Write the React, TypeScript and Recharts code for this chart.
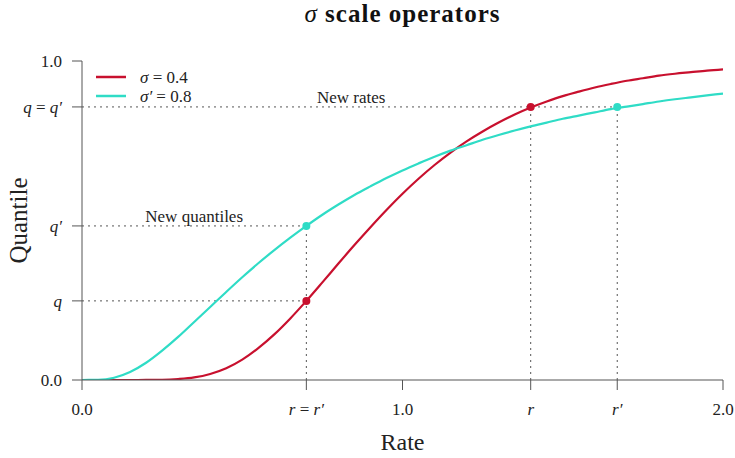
import React from "react";
import {
  LineChart,
  Line,
  XAxis,
  YAxis,
  ReferenceLine,
  ReferenceDot,
  Label,
} from "recharts";

const RED = "#c8102e";
const CYAN = "#2fdcc6";
const GUIDE = "#555555";
const FONT = "'Liberation Serif', 'DejaVu Serif', serif";

// rate grid and the two quantile curves
const rates = [
  0, 0.05, 0.1, 0.15, 0.2, 0.25, 0.3, 0.35, 0.4, 0.45, 0.5, 0.55, 0.6, 0.65,
  0.7, 0.75, 0.8, 0.85, 0.9, 0.95, 1.0, 1.05, 1.1, 1.15, 1.2, 1.25, 1.3, 1.35,
  1.4, 1.45, 1.5, 1.55, 1.6, 1.65, 1.7, 1.75, 1.8, 1.85, 1.9, 1.95, 2.0,
];
const sigmaQuantiles = [
  0, 0, 0, 0, 0.0001, 0.0006, 0.003, 0.008, 0.019, 0.037, 0.064, 0.1, 0.143,
  0.193, 0.248, 0.306, 0.365, 0.423, 0.479, 0.533, 0.584, 0.631, 0.674, 0.713,
  0.748, 0.779, 0.807, 0.832, 0.854, 0.873, 0.89, 0.904, 0.917, 0.928, 0.938,
  0.946, 0.954, 0.96, 0.965, 0.97, 0.974,
];
const sigmaPrimeQuantiles = [
  0, 0.0004, 0.007, 0.025, 0.054, 0.092, 0.135, 0.182, 0.229, 0.276, 0.322,
  0.366, 0.407, 0.446, 0.483, 0.518, 0.55, 0.58, 0.607, 0.633, 0.657, 0.679,
  0.7, 0.719, 0.736, 0.753, 0.768, 0.782, 0.795, 0.807, 0.819, 0.829, 0.839,
  0.849, 0.857, 0.865, 0.873, 0.88, 0.886, 0.892, 0.898,
];

// marked values
const r = 0.7;
const rNew = 1.4;
const rPrime = 1.67;
const q = 0.248;
const qPrime = 0.483;
const qq = 0.856;

const xTicks = [0, r, 1.0, rNew, rPrime, 2.0];
const xTickLabels = ["0.0", "r = r′", "1.0", "r", "r′", "2.0"];
const yTicks = [0, q, qPrime, qq, 1.0];
const yTickLabels = ["0.0", "q", "q′", "q = q′", "1.0"];

const legendItems = [
  { color: RED, text: "σ = 0.4" },
  { color: CYAN, text: "σ′ = 0.8" },
];

const data = rates.map((x, i) => ({
  x,
  a: sigmaQuantiles[i],
  b: sigmaPrimeQuantiles[i],
}));

function MathText({ text }: { text: string }) {
  const parts = text.split(/([a-zσ]′?)/).filter((p) => p !== "");
  return (
    <>
      {parts.map((p, i) => (
        <tspan key={i} fontStyle={/^[a-zσ]/.test(p) ? "italic" : "normal"}>
          {p}
        </tspan>
      ))}
    </>
  );
}

function XTick(props: any) {
  const { x, y, payload, index } = props;
  return (
    <text
      x={x}
      y={y + 23}
      textAnchor="middle"
      fontFamily={FONT}
      fontSize={17}
      fill="#222"
    >
      <MathText text={xTickLabels[index] ?? String(payload.value)} />
    </text>
  );
}

function YTick(props: any) {
  const { x, y, payload, index } = props;
  return (
    <text
      x={x - 8}
      y={y + 6}
      textAnchor="end"
      fontFamily={FONT}
      fontSize={17}
      fill="#222"
    >
      <MathText text={yTickLabels[index] ?? String(payload.value)} />
    </text>
  );
}

function LegendBox() {
  return (
    <svg
      width={160}
      height={44}
      style={{ position: "absolute", left: 92, top: 66 }}
    >
      {legendItems.map((it, i) => (
        <g key={i}>
          <line
            x1={4}
            x2={34}
            y1={11 + i * 19}
            y2={11 + i * 19}
            stroke={it.color}
            strokeWidth={2.5}
          />
          <text
            x={48}
            y={17 + i * 19}
            fontFamily={FONT}
            fontSize={17}
            fill="#222"
          >
            <MathText text={it.text} />
          </text>
        </g>
      ))}
    </svg>
  );
}

export default function App() {
  const dash = "2 4";
  return (
    <div
      style={{
        position: "absolute",
        left: 0,
        top: 0,
        width: 735,
        height: 458,
        background: "#fff",
      }}
    >
      <div
        style={{
          position: "absolute",
          left: 82,
          width: 641,
          top: 0,
          textAlign: "center",
          fontFamily: FONT,
          fontWeight: "bold",
          fontSize: 25,
          letterSpacing: 1,
          color: "#111",
        }}
      >
        <span style={{ fontStyle: "italic", fontWeight: "normal" }}>σ</span>{" "}
        scale operators
      </div>
      <LineChart
        width={735}
        height={458}
        data={data}
        margin={{ top: 61, right: 12, left: 0, bottom: 0 }}
      >
        <XAxis
          type="number"
          dataKey="x"
          domain={[0, 2]}
          ticks={xTicks}
          tick={<XTick />}
          tickSize={10}
          height={78}
          stroke={GUIDE}
          interval={0}
          allowDataOverflow
        >
          <Label
            value="Rate"
            position="insideBottom"
            offset={8}
            fontFamily={FONT}
            fontSize={24}
            fill="#222"
          />
        </XAxis>
        <YAxis
          type="number"
          domain={[0, 1]}
          ticks={yTicks}
          tick={<YTick />}
          tickSize={10}
          width={82}
          stroke={GUIDE}
          interval={0}
          allowDataOverflow
        >
          <Label
            value="Quantile"
            angle={-90}
            position="insideLeft"
            offset={18}
            fontFamily={FONT}
            fontSize={25}
            fill="#222"
            style={{ textAnchor: "middle" }}
          />
        </YAxis>

        <ReferenceLine
          segment={[{ x: 0, y: q }, { x: r, y: q }]}
          stroke={GUIDE}
          strokeDasharray={dash}
        />
        <ReferenceLine
          segment={[{ x: 0, y: qPrime }, { x: r, y: qPrime }]}
          stroke={GUIDE}
          strokeDasharray={dash}
        />
        <ReferenceLine
          segment={[{ x: 0, y: qq }, { x: rPrime, y: qq }]}
          stroke={GUIDE}
          strokeDasharray={dash}
        />
        <ReferenceLine
          segment={[{ x: r, y: 0 }, { x: r, y: qPrime }]}
          stroke={GUIDE}
          strokeDasharray={dash}
        />
        <ReferenceLine
          segment={[{ x: rNew, y: 0 }, { x: rNew, y: qq }]}
          stroke={GUIDE}
          strokeDasharray={dash}
        />
        <ReferenceLine
          segment={[{ x: rPrime, y: 0 }, { x: rPrime, y: qq }]}
          stroke={GUIDE}
          strokeDasharray={dash}
        />

        <Line
          type="monotone"
          dataKey="a"
          stroke={RED}
          strokeWidth={2.2}
          dot={false}
          isAnimationActive={false}
        />
        <Line
          type="monotone"
          dataKey="b"
          stroke={CYAN}
          strokeWidth={2.2}
          dot={false}
          isAnimationActive={false}
        />

        <ReferenceDot x={r} y={q} r={4} fill={RED} stroke="none" />
        <ReferenceDot x={r} y={qPrime} r={4} fill={CYAN} stroke="none" />
        <ReferenceDot x={rNew} y={qq} r={4} fill={RED} stroke="none" />
        <ReferenceDot x={rPrime} y={qq} r={4} fill={CYAN} stroke="none" />

        <ReferenceDot
          x={0.35}
          y={0.515}
          r={0}
          stroke="none"
          label={{
            value: "New quantiles",
            position: "center",
            fontFamily: FONT,
            fontSize: 17,
            fill: "#222",
          }}
        />
        <ReferenceDot
          x={0.84}
          y={0.886}
          r={0}
          stroke="none"
          label={{
            value: "New rates",
            position: "center",
            fontFamily: FONT,
            fontSize: 17,
            fill: "#222",
          }}
        />
      </LineChart>
      <LegendBox />
    </div>
  );
}
